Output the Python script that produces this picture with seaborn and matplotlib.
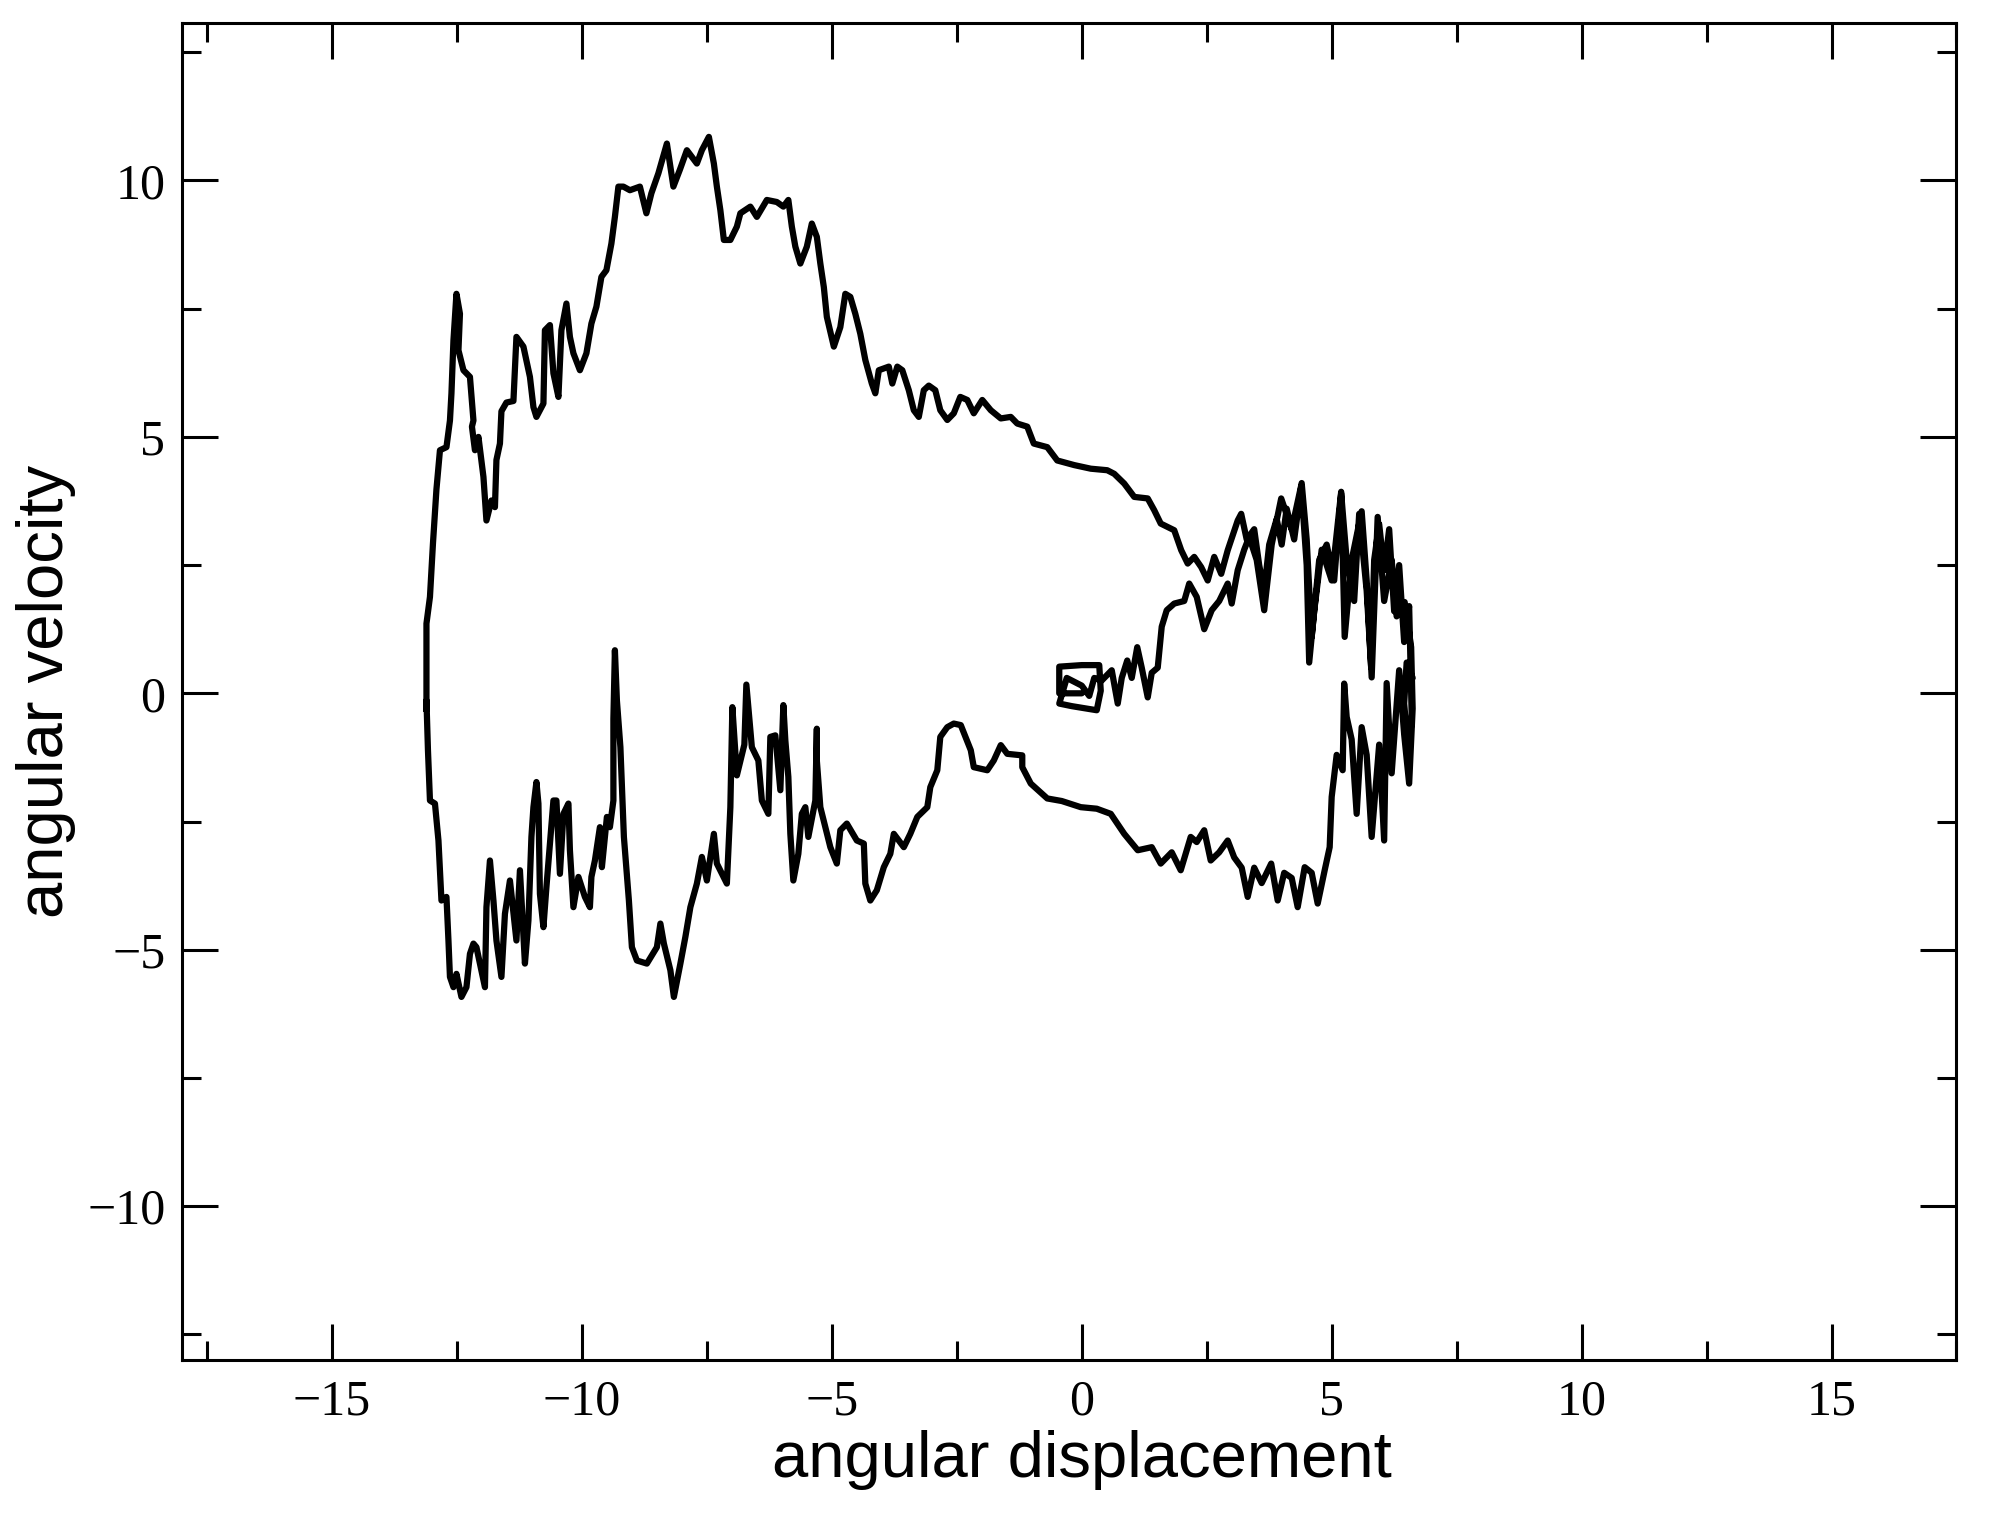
import pandas as pd
import seaborn as sns
import matplotlib.pyplot as plt
from matplotlib.ticker import MultipleLocator

# trajectory in phase space (in drawing order)
start_disp = [0.0, -0.45, -0.45, 0.0, 0.35, 0.38, 0.3, -0.2, -0.45, -0.3, 0.0, 0.15, 0.25, 0.4,
              0.6, 0.72, 0.8, 0.91, 1.0, 1.11, 1.2, 1.32, 1.4, 1.52, 1.6, 1.7, 1.85, 2.05, 2.15,
              2.3, 2.45, 2.6, 2.75, 2.92, 3.0, 3.12, 3.25, 3.35]
start_vel = [0.0, 0.0, 0.52, 0.55, 0.55, 0.05, -0.33, -0.25, -0.2, 0.3, 0.15, -0.05, 0.3, 0.25,
             0.45, -0.2, 0.3, 0.64, 0.3, 0.9, 0.5, -0.08, 0.4, 0.5, 1.3, 1.62, 1.75, 1.8, 2.14,
             1.88, 1.25, 1.62, 1.8, 2.14, 1.75, 2.4, 2.8, 3.05]

right1_disp = [3.5, 3.65, 3.8, 3.99, 4.2, 4.39, 4.5, 4.55, 4.65, 4.8, 5.0, 5.19, 5.26, 5.4, 5.6,
               5.7, 5.8, 5.92, 6.05, 6.2, 6.3, 6.46, 6.59, 6.62, 6.55, 6.45, 6.35, 6.2, 6.1, 6.05,
               5.95, 5.8, 5.7, 5.6, 5.5, 5.4, 5.3, 5.25, 5.22, 5.1, 5.0, 4.96, 4.86]
right1_vel = [2.6, 1.62, 2.9, 3.8, 3.2, 4.05, 2.5, 0.6, 1.6, 2.8, 2.2, 3.93, 1.1, 2.6, 3.55,
              2.2, 0.31, 3.44, 1.8, 2.6, 1.5, 1.78, 0.9, -0.3, -1.76, -0.8, 0.45, -1.56, 0.2, -2.87,
              -1.0, -2.8, -1.2, -0.66, -2.35, -0.9, -0.46, 0.19, -1.5, -1.2, -2.02, -3.0, -3.45]

lower_disp = [4.72, 4.6, 4.46, 4.32, 4.2, 4.05, 3.92, 3.79, 3.6, 3.45, 3.32, 3.2, 3.05, 2.92,
              2.75, 2.58, 2.45, 2.3, 2.18, 1.98, 1.8, 1.58, 1.4, 1.12, 0.85, 0.58, 0.3, -0.02,
              -0.4, -0.69, -1.02, -1.19, -1.19, -1.49, -1.62, -1.76, -1.89, -2.16, -2.22, -2.42,
              -2.56, -2.69, -2.83, -2.89, -3.03, -3.09, -3.29, -3.43, -3.56, -3.76, -3.83, -3.96,
              -4.1, -4.23, -4.33, -4.36, -4.5, -4.7, -4.83, -4.9, -5.03, -5.13, -5.23, -5.3,
              -5.3, -5.33, -5.47, -5.53, -5.6, -5.67, -5.77, -5.83, -5.87, -5.93, -5.97, -6.03,
              -6.13, -6.23, -6.27, -6.4, -6.47, -6.6, -6.71, -6.75, -6.9, -6.99, -7.03, -7.1,
              -7.3, -7.36, -7.5, -7.6, -7.7, -7.83, -7.93, -8.03, -8.16, -8.23, -8.36, -8.43,
              -8.5, -8.7, -8.9, -9.0, -9.06, -9.16, -9.23, -9.3, -9.34, -9.37, -9.37, -9.44,
              -9.5, -9.6, -9.64, -9.74, -9.81, -9.84, -9.94, -10.07, -10.17, -10.24, -10.27,
              -10.37, -10.44, -10.51, -10.57, -10.64, -10.71, -10.77, -10.84, -10.87, -10.91,
              -10.97, -11.01, -11.07, -11.14, -11.24, -11.31, -11.44, -11.54, -11.61, -11.71,
              -11.77, -11.84, -11.91, -11.94, -12.04, -12.11, -12.17, -12.24, -12.31, -12.41,
              -12.51, -12.57, -12.64, -12.67, -12.71, -12.81, -12.87, -12.94, -13.04, -13.08,
              -13.11]
lower_vel = [-4.1, -3.5, -3.39, -4.17, -3.6, -3.5, -4.04, -3.32, -3.7, -3.4, -3.97, -3.4, -3.2,
             -2.87, -3.1, -3.26, -2.67, -2.9, -2.8, -3.45, -3.1, -3.32, -3.0, -3.06, -2.74, -2.35,
             -2.25, -2.22, -2.1, -2.05, -1.76, -1.44, -1.21, -1.18, -1.01, -1.31, -1.5, -1.44,
             -1.11, -0.62, -0.59, -0.66, -0.85, -1.5, -1.83, -2.22, -2.41, -2.74, -3.0, -2.74,
             -3.13, -3.39, -3.84, -4.04, -3.71, -2.93, -2.87, -2.54, -2.67, -3.32, -3.0, -2.61,
             -2.22, -1.31, -0.69, -2.09, -2.8, -2.22, -2.35, -3.13, -3.65, -2.74, -1.63, -0.92,
             -0.23, -1.89, -0.82, -0.85, -2.35, -2.09, -1.31, -1.05, 0.17, -1.0, -1.6, -0.27,
             -2.22, -3.71, -3.32, -2.74, -3.65, -3.19, -3.71, -4.17, -4.75, -5.27, -5.92, -5.4,
             -4.88, -4.49, -4.95, -5.27, -5.21, -4.95, -4.04, -2.8, -1.05, -0.14, 0.84, -0.5,
             -2.09, -2.61, -2.41, -3.39, -2.61, -3.26, -3.58, -4.17, -3.97, -3.58, -4.17, -3.06,
             -2.15, -2.35, -3.52, -2.09, -2.09, -2.93, -3.78, -4.56, -3.91, -2.15, -1.73, -2.22,
             -2.8, -4.43, -5.27, -3.45, -4.82, -3.65, -4.3, -5.53, -4.82, -4.04, -3.26, -4.17,
             -5.73, -5.27, -4.95, -4.88, -5.08, -5.73, -5.92, -5.47, -5.73, -5.53, -4.82, -3.97,
             -4.04, -2.87, -2.15, -2.09, -1.11, -0.14]

upper_disp = [-13.11, -13.11, -13.04, -12.98, -12.91, -12.84, -12.71, -12.64, -12.61, -12.57,
              -12.51, -12.44, -12.47, -12.37, -12.24, -12.17, -12.2, -12.14, -12.07, -11.97,
              -11.91, -11.81, -11.74, -11.71, -11.64, -11.61, -11.51, -11.37, -11.31, -11.17,
              -11.04, -10.97, -10.91, -10.77, -10.74, -10.64, -10.57, -10.47, -10.41, -10.31,
              -10.24, -10.17, -10.04, -9.91, -9.81, -9.71, -9.61, -9.51, -9.41, -9.34, -9.27,
              -9.17, -9.04, -8.84, -8.71, -8.61, -8.47, -8.3, -8.17, -8.04, -7.9, -7.7, -7.6,
              -7.46, -7.36, -7.3, -7.23, -7.16, -7.03, -6.9, -6.83, -6.63, -6.5, -6.3, -6.1,
              -5.97, -5.87, -5.8, -5.73, -5.63, -5.5, -5.4, -5.3, -5.23, -5.16, -5.1, -4.96,
              -4.83, -4.73, -4.63, -4.53, -4.43, -4.33, -4.2, -4.13, -4.06, -3.86, -3.79, -3.69,
              -3.59, -3.46, -3.36, -3.26, -3.16, -3.06, -2.93, -2.83, -2.69, -2.56, -2.43, -2.29,
              -2.16, -1.99, -1.82, -1.62, -1.42, -1.29, -1.09, -0.96, -0.69, -0.49, -0.15, 0.18,
              0.51, 0.65, 0.85, 1.05, 1.32, 1.45, 1.58, 1.85, 1.99, 2.12, 2.25, 2.39, 2.52, 2.65,
              2.79, 2.92, 3.12, 3.19]
upper_vel = [-0.33, 1.36, 1.88, 2.92, 3.98, 4.74, 4.8, 5.32, 5.85, 6.88, 7.79, 7.4, 6.69, 6.3,
             6.17, 5.32, 5.2, 4.74, 5.0, 4.22, 3.37, 3.76, 3.63, 4.55, 4.87, 5.5, 5.67, 5.7, 6.95,
             6.76, 6.17, 5.58, 5.39, 5.65, 7.08, 7.18, 6.24, 5.78, 7.08, 7.6, 6.95, 6.63, 6.3,
             6.63, 7.21, 7.54, 8.12, 8.25, 8.77, 9.29, 9.88, 9.88, 9.81, 9.88, 9.36, 9.75, 10.14,
             10.72, 9.88, 10.21, 10.59, 10.33, 10.59, 10.85, 10.33, 9.88, 9.42, 8.84, 8.84, 9.1,
             9.36, 9.49, 9.29, 9.62, 9.58, 9.49, 9.62, 9.1, 8.71, 8.38, 8.71, 9.16, 8.9, 8.38,
             7.92, 7.34, 6.76, 7.14, 7.79, 7.73, 7.4, 7.01, 6.5, 6.04, 5.85, 6.3, 6.37, 6.04,
             6.37, 6.3, 5.91, 5.52, 5.39, 5.91, 6.0, 5.91, 5.52, 5.33, 5.46, 5.78, 5.72, 5.46,
             5.72, 5.52, 5.36, 5.39, 5.26, 5.2, 4.87, 4.8, 4.54, 4.45, 4.38, 4.35, 4.28, 4.09,
             3.83, 3.8, 3.57, 3.31, 3.18, 2.79, 2.53, 2.66, 2.46, 2.2, 2.66, 2.33, 2.79, 3.37, 3.5]

right2_disp = [3.3, 3.45, 3.55, 3.65, 3.75, 3.9, 4.0, 4.1, 4.25, 4.4, 4.5, 4.6, 4.75, 4.9, 5.05,
               5.19, 5.3, 5.45, 5.55, 5.7, 5.79, 5.85, 5.95, 6.05, 6.15, 6.25, 6.35, 6.45, 6.55,
               6.6, 6.55, 6.45, 6.5, 6.62]
right2_vel = [3.0, 3.2, 2.5, 2.0, 2.9, 3.4, 2.9, 3.6, 3.0, 4.1, 3.0, 1.1, 2.6, 2.9, 2.2, 3.9,
              2.6, 1.8, 3.5, 2.0, 0.5, 2.6, 3.3, 2.4, 3.2, 1.6, 2.5, 1.0, 1.7, -0.4, -1.3, -0.2,
              0.6, 0.3]

disp = start_disp + right1_disp + lower_disp + upper_disp + right2_disp
vel = start_vel + right1_vel + lower_vel + upper_vel + right2_vel
traj = pd.DataFrame({"angular displacement": disp, "angular velocity": vel})

sns.set_style("ticks")
plt.rcParams["font.family"] = ["Liberation Serif", "DejaVu Serif"]
plt.rcParams["text.color"] = "black"
plt.rcParams["axes.labelcolor"] = "black"
plt.rcParams["xtick.color"] = "black"
plt.rcParams["ytick.color"] = "black"

fig = plt.figure(figsize=(19.96, 15.15), dpi=100)
ax = fig.add_axes([0.0912, 0.1023, 0.889, 0.8825])

sns.lineplot(data=traj, x="angular displacement", y="angular velocity", sort=False,
             estimator=None, color="black", linewidth=4.5, ax=ax)

ax.set_xlim(-18, 17.5)
ax.set_ylim(-13, 13.07)
ax.xaxis.set_major_locator(MultipleLocator(5))
ax.xaxis.set_minor_locator(MultipleLocator(2.5))
ax.yaxis.set_major_locator(MultipleLocator(5))
ax.yaxis.set_minor_locator(MultipleLocator(2.5))
ax.tick_params(which="both", direction="in", top=True, right=True, width=2.2, color="black",
               labelcolor="black")
ax.tick_params(which="major", length=26, labelsize=36)
ax.tick_params(which="minor", length=14)
ax.tick_params(axis="x", which="major", pad=14)
ax.tick_params(axis="y", which="major", pad=12)
for s in ax.spines.values():
    s.set_linewidth(2.2)
    s.set_color("black")

ax.set_xlabel("angular displacement", fontsize=47, family="Liberation Sans", labelpad=8)
ax.set_ylabel("angular velocity", fontsize=47, family="Liberation Sans", labelpad=8)
ax.xaxis.set_label_coords(0.507, -0.052, transform=ax.transAxes)
ax.xaxis.label.set_verticalalignment("top")

fig.savefig("out.png", dpi=100)
